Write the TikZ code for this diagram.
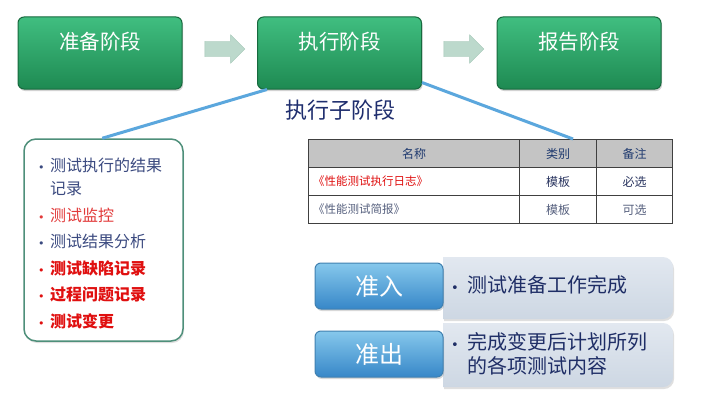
\documentclass[tikz,border=0pt]{standalone}
\usepackage{fontspec}
\newfontfamily\cjk{Noto Sans CJK SC}
\newfontfamily\dv{DejaVu Sans}
\usetikzlibrary{shapes.arrows,shadows}
\definecolor{gtop}{HTML}{40BE80}
\definecolor{gbot}{HTML}{1E8A52}
\definecolor{gbrd}{HTML}{176A3E}
\definecolor{arrfill}{HTML}{BCD9CC}
\definecolor{arrbrd}{HTML}{A3C6B6}
\definecolor{navy}{HTML}{1F2E6E}
\definecolor{linkblue}{HTML}{5BA7DD}
\definecolor{listbrd}{HTML}{4E8F7A}
\definecolor{itemblue}{HTML}{3B4A80}
\definecolor{itemred}{HTML}{E01010}
\definecolor{itemred2}{HTML}{E23A3A}
\definecolor{hdrfill}{HTML}{C4C4C4}
\definecolor{hdrtext}{HTML}{1F3A6F}
\definecolor{celltext}{HTML}{2A3560}
\definecolor{cellgray}{HTML}{56607E}
\definecolor{btop}{HTML}{86C8EC}
\definecolor{bbot}{HTML}{3787C8}
\definecolor{bbrd}{HTML}{4080B0}
\definecolor{ptop}{HTML}{E2E8F0}
\definecolor{pbot}{HTML}{CDD7E3}
\definecolor{ptext}{HTML}{1F2E66}
\newcommand{\lbul}{\makebox[12pt][l]{\dv\fontsize{11}{11}\selectfont•}}
\newcommand{\pbul}{\makebox[16pt][l]{\dv\fontsize{13}{13}\selectfont•}}
\begin{document}
\begin{tikzpicture}[x=1pt,y=-1pt,
  stagebox/.style={draw=gbrd, line width=1pt, top color=gtop, bottom color=gbot,
    rounded corners=6pt, minimum width=164pt, minimum height=72pt, text=white,
    font=\cjk\fontsize{20.5}{24}\selectfont,
    drop shadow={opacity=0.35, shadow xshift=1pt, shadow yshift=-2pt}},
  flowarrow/.style={single arrow, draw=arrbrd, fill=arrfill, inner xsep=0pt, inner ysep=7.5pt,
    minimum height=40pt, single arrow head extend=6.5pt},
  link/.style={draw=linkblue, line width=3pt},
  itemtext/.style={anchor=base west, inner sep=0pt, font=\cjk\fontsize{16}{23}\selectfont, align=left},
  cell/.style={draw=black!75, line width=1pt, minimum height=28pt, anchor=north west,
    inner sep=0pt, font=\cjk\fontsize{12}{14}\selectfont, text=celltext},
  gatebox/.style={draw=bbrd, line width=1pt, top color=btop, bottom color=bbot,
    rounded corners=6pt, minimum width=128pt, minimum height=46pt, text=white,
    font=\cjk\fontsize{24}{28}\selectfont,
    drop shadow={opacity=0.3, shadow xshift=1pt, shadow yshift=-2pt}},
  paneltext/.style={anchor=base west, inner sep=0pt, text=ptext,
    font=\cjk\fontsize{20}{24}\selectfont, align=left}
]
\useasboundingbox (0,0) rectangle (703,404);
\fill[white] (0,0) rectangle (703,404);

% stage boxes
\node[stagebox] (s1) at (100,53) {\smash{\raisebox{3.5pt}{准备阶段}}};
\node[stagebox] (s2) at (339.5,53) {\smash{\raisebox{3.5pt}{执行阶段}}};
\node[stagebox] (s3) at (579,53) {\smash{\raisebox{3.5pt}{报告阶段}}};
\node[flowarrow] (a1) at (221,49) {};
\node[flowarrow] (a2) at (460,49) {};

\node[text=navy, font=\cjk\fontsize{22}{24}\selectfont, inner sep=0pt] (sub) at (340,110) {执行子阶段};

% list box
\node[draw=listbrd, line width=1.5pt, fill=white, rounded corners=12pt,
  minimum width=159pt, minimum height=202pt,
  drop shadow={opacity=0.25, shadow xshift=1pt, shadow yshift=-2pt}] (list) at (103.5,240) {};
\node[itemtext, text=itemblue] (i1) at (38,171)
  {\begin{tabular}[t]{@{}l@{}l@{}}\lbul&测试执行的结果\\&记录\end{tabular}};
\node[itemtext, text=itemred2] (i2) at (38,221) {\lbul 测试监控};
\node[itemtext, text=itemblue] (i3) at (38,247) {\lbul 测试结果分析};
\node[itemtext, text=itemred] (i4) at (38,274) {\lbul\bfseries 测试缺陷记录};
\node[itemtext, text=itemred] (i5) at (38,300) {\lbul\bfseries 过程问题记录};
\node[itemtext, text=itemred] (i6) at (38,327) {\lbul\bfseries 测试变更};

% table
\node[cell, fill=hdrfill, minimum width=211pt, text=hdrtext] (h1) at (308,139) {名称};
\node[cell, fill=hdrfill, minimum width=77pt, text=hdrtext] (h2) at (519,139) {类别};
\node[cell, fill=hdrfill, minimum width=76pt, text=hdrtext] (h3) at (596,139) {备注};
\node[cell, minimum width=211pt] (r1a) at (308,167) {};
\node[cell, minimum width=77pt] (r1b) at (519,167) {模板};
\node[cell, minimum width=76pt] (r1c) at (596,167) {必选};
\node[cell, minimum width=211pt] (r2a) at (308,195) {};
\node[cell, minimum width=77pt, text=cellgray] (r2b) at (519,195) {模板};
\node[cell, minimum width=76pt, text=cellgray] (r2c) at (596,195) {可选};
\node[anchor=west, inner sep=0pt, font=\cjk\fontsize{11.5}{14}\selectfont, text=itemred] (n1) at (313,181) {《性能测试执行日志》};
\node[anchor=west, inner sep=0pt, font=\cjk\fontsize{11.5}{14}\selectfont, text=cellgray] (n2) at (313,209) {《性能测试简报》};

% connectors
\draw[link] ([xshift=10pt]s2.south west) -- ([xshift=79pt]list.north west);
\draw[link] ([yshift=7pt]s2.south east) -- ([xshift=-100pt]h3.north east);

% gate panels
\path[top color=ptop, bottom color=pbot, drop shadow={opacity=0.25, shadow xshift=1pt, shadow yshift=-2pt}]
  (443,319) -- (443,257) -- (663,257) arc[start angle=90, end angle=0, radius=10pt]
  -- (673,309) arc[start angle=0, end angle=-90, radius=10pt] -- cycle;
\path[top color=ptop, bottom color=pbot, drop shadow={opacity=0.25, shadow xshift=1pt, shadow yshift=-2pt}]
  (443,387) -- (443,323) -- (663,323) arc[start angle=90, end angle=0, radius=10pt]
  -- (673,377) arc[start angle=0, end angle=-90, radius=10pt] -- cycle;

\node[gatebox] (g1) at (379,286) {准入};
\node[gatebox] (g2) at (379,354) {准出};

\node[paneltext] (p1) at (451,292) {\pbul 测试准备工作完成};
\node[paneltext] (p2) at (451,349)
  {\begin{tabular}[t]{@{}l@{}l@{}}\pbul&完成变更后计划所列\\&的各项测试内容\end{tabular}};
\end{tikzpicture}
\end{document}
